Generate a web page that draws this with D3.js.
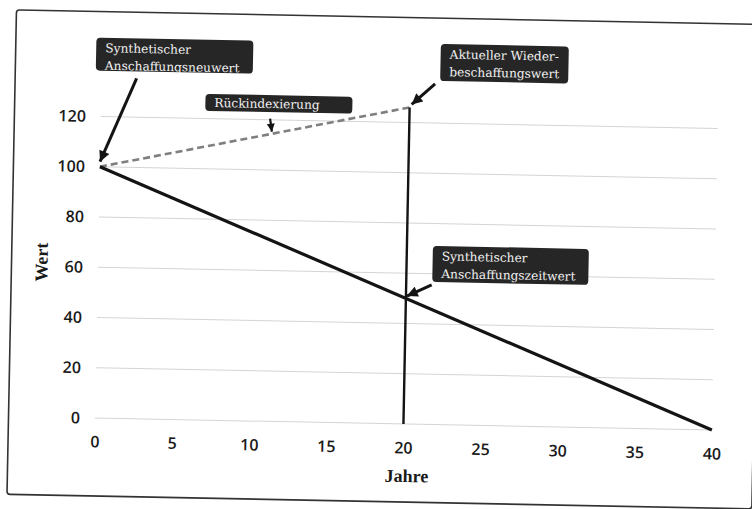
<!DOCTYPE html>
<html>
<head>
<meta charset="utf-8">
<script src="https://cdn.jsdelivr.net/npm/d3@7"></script>
<style>
  html, body { margin: 0; padding: 0; background: #fff; }
  svg { display: block; }
</style>
</head>
<body>
<svg id="chart" width="752" height="509"></svg>
<script>
// ---- data ----
const xTicks = [0, 5, 10, 15, 20, 25, 30, 35, 40];
const yTicks = [0, 20, 40, 60, 80, 100, 120];
const residualYears = [0, 40];
const residualValues = [100, 0];
const reindexYears = [0, 20];
const reindexValues = [100, 126];
const currentYear = 20;
const currentRange = [0, 126];
const xTitle = "Jahre";
const yTitle = "Wert";
const annoLines = [
  ["Synthetischer", "Anschaffungsneuwert"],
  ["Rückindexierung"],
  ["Aktueller Wieder-", "beschaffungswert"],
  ["Synthetischer", "Anschaffungszeitwert"]
];
const annoTargets = [[0, 100], [11.1, 113.9], [20, 126], [20, 50]];

// ---- layout ----
const svg = d3.select("#chart");
const root = svg.append("g").attr("transform", "rotate(1.12, 95, 418)");

const x = d3.scaleLinear().domain([0, 40]).range([95, 712]);
const y = d3.scaleLinear().domain([0, 120]).range([418, 116.4]);

// frame
root.append("rect")
  .attr("x", 8.5).attr("y", 11.5).attr("width", 745).attr("height", 484.5)
  .attr("rx", 3)
  .attr("fill", "none").attr("stroke", "#333").attr("stroke-width", 1.6);

// gridlines
root.append("g").selectAll("line").data(yTicks).join("line")
  .attr("x1", x(0)).attr("x2", x(40))
  .attr("y1", d => y(d)).attr("y2", d => y(d))
  .attr("stroke", "#d4d4d4").attr("stroke-width", 1);

// axes (labels only)
const yAxis = root.append("g").attr("transform", `translate(${x(0) - 6},0)`)
  .call(d3.axisLeft(y).tickValues(yTicks).tickSize(0).tickPadding(9));
const xAxis = root.append("g").attr("transform", `translate(0,${y(0) + 10})`)
  .call(d3.axisBottom(x).tickValues(xTicks).tickSize(0).tickPadding(8));
[xAxis, yAxis].forEach(a => {
  a.select(".domain").remove();
  a.selectAll("text")
    .attr("font-family", "'Open Sans', sans-serif")
    .attr("font-weight", 600)
    .attr("font-size", 16)
    .attr("fill", "#1a1a1a");
});

// axis titles
root.append("text")
  .attr("x", (x(0) + x(40)) / 2 + 4).attr("y", 476)
  .attr("text-anchor", "middle")
  .attr("font-family", "'Liberation Serif', serif").attr("font-weight", "bold")
  .attr("font-size", 18).attr("fill", "#1a1a1a")
  .text(xTitle);
root.append("text")
  .attr("transform", `translate(44.5,${(y(0) + y(120)) / 2 - 4}) rotate(-90)`)
  .attr("text-anchor", "middle")
  .attr("font-family", "'Liberation Serif', serif").attr("font-weight", "bold")
  .attr("font-size", 18).attr("fill", "#1a1a1a")
  .text(yTitle);

// series
const line = d3.line().x(d => x(d[0])).y(d => y(d[1]));
root.append("path")
  .datum(reindexYears.map((d, i) => [d, reindexValues[i]]))
  .attr("d", line)
  .attr("fill", "none").attr("stroke", "#7f7f7f")
  .attr("stroke-width", 2.6).attr("stroke-dasharray", "7,4");
root.append("path")
  .datum(residualYears.map((d, i) => [d, residualValues[i]]))
  .attr("d", line)
  .attr("fill", "none").attr("stroke", "#141414")
  .attr("stroke-width", 3.2);
root.append("path")
  .datum(currentRange.map(v => [currentYear, v]))
  .attr("d", line)
  .attr("fill", "none").attr("stroke", "#141414")
  .attr("stroke-width", 2.4);

// arrow marker
const defs = svg.append("defs");
defs.append("marker")
  .attr("id", "ah").attr("viewBox", "0 0 10 10")
  .attr("refX", 10).attr("refY", 5)
  .attr("markerWidth", 4).attr("markerHeight", 3.6)
  .attr("markerUnits", "strokeWidth")
  .attr("orient", "auto")
  .append("path").attr("d", "M0,0 L10,5 L0,10 z").attr("fill", "#141414");

// annotation layout (pixel offsets relative to the target point)
const annoLayout = [
  { box: [-6, -129, 157, 33], from: [35, -89], tip: [0, -5] },
  { box: [-67, -40, 147, 17], from: [-2, -16.5], tip: [0, -3.5] },
  { box: [30, -64, 128, 37], from: [25, -24], tip: [2, -3] },
  { box: [26, -53, 156, 36], from: [25.5, -14], tip: [1, -2.4] }
];

annoLines.forEach((lines, i) => {
  const t = annoTargets[i];
  const px = x(t[0]), py = y(t[1]);
  const L = annoLayout[i];
  const g = root.append("g");
  g.append("rect")
    .attr("x", px + L.box[0]).attr("y", py + L.box[1])
    .attr("width", L.box[2]).attr("height", L.box[3])
    .attr("rx", 4).attr("fill", "#262626");
  lines.forEach((s, j) => {
    g.append("text")
      .attr("x", px + L.box[0] + 9)
      .attr("y", py + L.box[1] + (lines.length === 1 ? 13 : 14.5 + j * 17.5))
      .attr("font-family", "'DejaVu Serif', serif")
      .attr("font-size", 12.2)
      .attr("fill", "#f2f2f2")
      .text(s);
  });
  g.append("line")
    .attr("x1", px + L.from[0]).attr("y1", py + L.from[1])
    .attr("x2", px + L.tip[0]).attr("y2", py + L.tip[1])
    .attr("stroke", "#141414").attr("stroke-width", i === 1 ? 2.2 : 3)
    .attr("marker-end", "url(#ah)");
});
</script>
</body>
</html>
